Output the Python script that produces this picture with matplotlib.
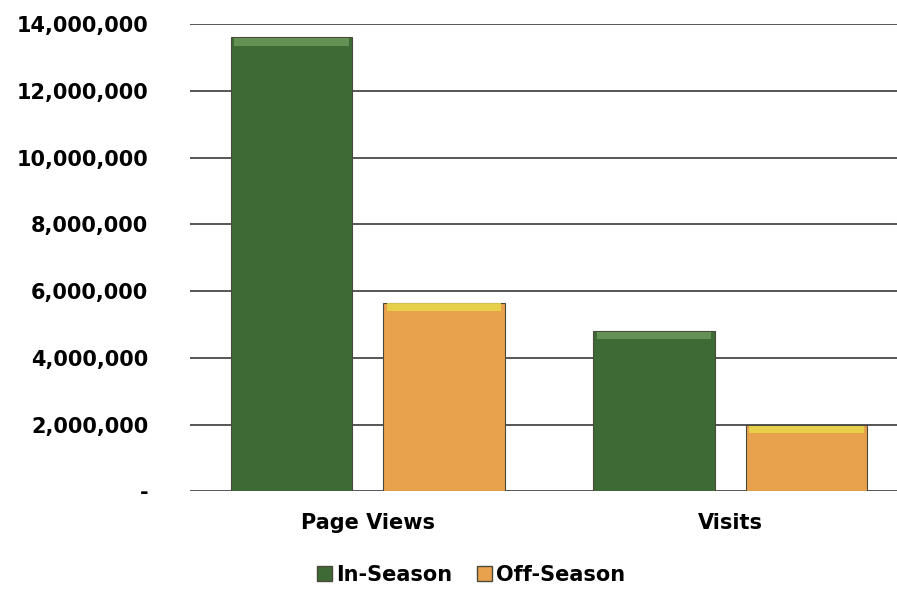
import matplotlib.pyplot as plt
import matplotlib.patches as mpatches
import numpy as np
from matplotlib.ticker import FuncFormatter

categories = ['Page Views', 'Visits']
in_season = [13600000, 4800000]
off_season = [5650000, 1980000]
series_names = ['In-Season', 'Off-Season']

green = '#3e6a35'
green_top = '#6a9a5a'
orange = '#e8a24e'
orange_top = '#e8d84a'

plt.rcParams['font.family'] = ['DejaVu Sans']

fig = plt.figure(figsize=(8.97, 5.89), dpi=100)
ax = fig.add_axes([0.212, 0.166, 0.788, 0.793])

x = np.arange(len(categories))
w = 0.335
gap = 0.043
offsets = [-(w / 2 + gap), w / 2 + gap]

# bars, with a thin lighter strip on top for the bevel look
for vals, off, col, top in [(in_season, offsets[0], green, green_top),
                            (off_season, offsets[1], orange, orange_top)]:
    ax.bar(x + off, vals, width=w, color=col, edgecolor='#4a4a3a', linewidth=0.8, zorder=3)
    bev = 0.016 * 14000000
    ax.bar(x + off, [bev] * len(vals), width=w * 0.94, bottom=np.array(vals) - bev * 1.1,
           color=top, linewidth=0, alpha=0.85, zorder=4)

ax.set_ylim(0, 14000000)
ax.set_yticks(np.arange(0, 14000001, 2000000))
ax.yaxis.set_major_formatter(FuncFormatter(lambda v, p: '-' if v == 0 else f'{int(v):,}'))
ax.set_xlim(-0.49, 1.46)
ax.set_xticks(x)
ax.set_xticklabels(categories)
ax.grid(axis='y', color='#555555', linewidth=1.4, zorder=0)
ax.set_axisbelow(True)
for s in ax.spines.values():
    s.set_visible(False)
ax.tick_params(axis='both', length=0, labelsize=15)
ax.tick_params(axis='y', pad=30)
ax.tick_params(axis='x', pad=16)
for lbl in ax.get_xticklabels() + ax.get_yticklabels():
    lbl.set_fontweight('bold')

handles = [mpatches.Patch(facecolor=green, edgecolor='#4a4a3a', label=series_names[0]),
           mpatches.Patch(facecolor=orange, edgecolor='#4a4a3a', label=series_names[1])]
fig.legend(handles=handles, loc='lower center', bbox_to_anchor=(0.525, -0.025), ncol=2,
           frameon=False, prop={'weight': 'bold', 'size': 15}, handlelength=0.7,
           handleheight=0.7, handletextpad=0.2, columnspacing=1.2)

fig.savefig('out.png', dpi=100)
